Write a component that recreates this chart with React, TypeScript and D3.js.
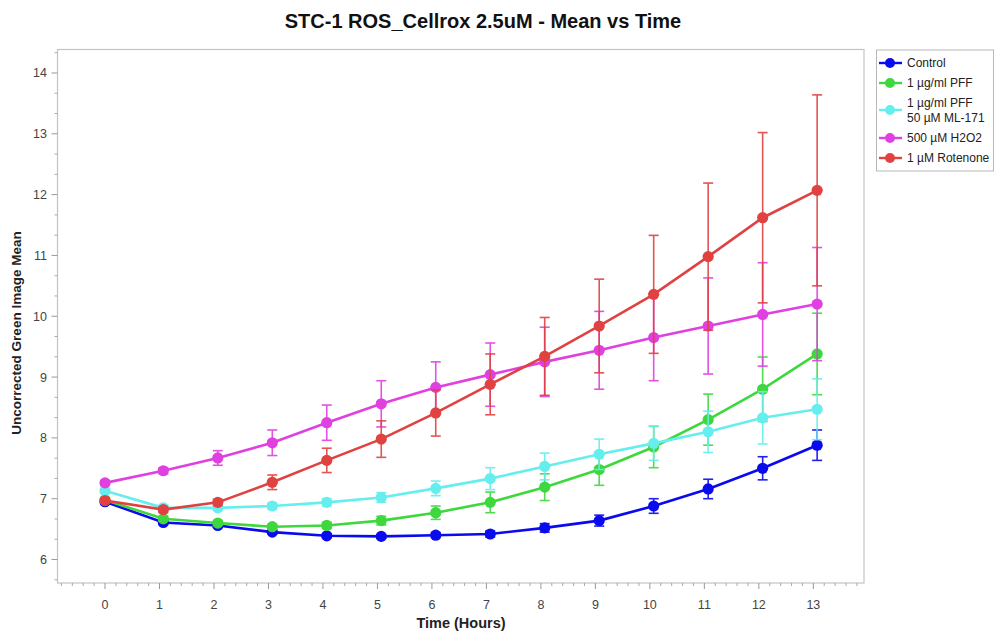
import React from "react";
import * as d3 from "d3";

const times = [0, 1.07, 2.07, 3.07, 4.07, 5.07, 6.07, 7.07, 8.07, 9.07, 10.07, 11.07, 12.07, 13.07];
const xTickLabels = ["0", "1", "2", "3", "4", "5", "6", "7", "8", "9", "10", "11", "12", "13"];
const yTickLabels = ["6", "7", "8", "9", "10", "11", "12", "13", "14"];

const control = [6.95, 6.61, 6.56, 6.45, 6.39, 6.38, 6.40, 6.42, 6.52, 6.64, 6.88, 7.16, 7.50, 7.88];
const controlErr = [0.03, 0.03, 0.03, 0.03, 0.03, 0.03, 0.04, 0.05, 0.07, 0.09, 0.12, 0.16, 0.19, 0.25];
const pff = [6.98, 6.67, 6.60, 6.54, 6.56, 6.64, 6.77, 6.94, 7.19, 7.48, 7.85, 8.30, 8.80, 9.38];
const pffErr = [0.03, 0.04, 0.04, 0.04, 0.05, 0.07, 0.11, 0.17, 0.22, 0.26, 0.34, 0.42, 0.53, 0.67];
const ml171 = [7.13, 6.85, 6.85, 6.88, 6.94, 7.02, 7.17, 7.33, 7.53, 7.73, 7.91, 8.10, 8.33, 8.47];
const ml171Err = [0.04, 0.04, 0.04, 0.05, 0.06, 0.08, 0.12, 0.18, 0.22, 0.25, 0.28, 0.34, 0.43, 0.5];
const h2o2 = [7.26, 7.46, 7.67, 7.92, 8.25, 8.56, 8.83, 9.04, 9.25, 9.44, 9.65, 9.84, 10.03, 10.20];
const h2o2Err = [0.04, 0.05, 0.12, 0.21, 0.29, 0.38, 0.42, 0.52, 0.57, 0.64, 0.71, 0.79, 0.85, 0.93];
const rotenone = [6.97, 6.82, 6.94, 7.27, 7.63, 7.98, 8.41, 8.88, 9.34, 9.84, 10.36, 10.98, 11.62, 12.07];
const rotenoneErr = [0.04, 0.05, 0.05, 0.12, 0.2, 0.3, 0.38, 0.5, 0.64, 0.77, 0.97, 1.21, 1.40, 1.57];

const seriesNames = [["Control"], ["1 µg/ml PFF"], ["1 µg/ml PFF", "50 µM ML-171"], ["500 µM H2O2"], ["1 µM Rotenone"]];
const seriesColors = ["#0a0aee", "#3ed83e", "#66eeee", "#e040e0", "#e04242"];
const seriesValues = [control, pff, ml171, h2o2, rotenone];
const seriesErrors = [controlErr, pffErr, ml171Err, h2o2Err, rotenoneErr];

const W = 995;
const H = 633;
const plot = { left: 57.5, right: 864, top: 49.5, bottom: 583 };
const font = "Arial, 'Liberation Sans', sans-serif";

export default function App() {
  const x = d3.scaleLinear().domain([-0.872, 13.93]).range([plot.left, plot.right]);
  const y = d3.scaleLinear().domain([5.614, 14.386]).range([plot.bottom, plot.top]);

  const xMajor = xTickLabels.map((t) => +t);
  const xMinor = d3.range(-4, 70).map((i) => i * 0.2).filter((v) => x(v) > plot.left + 1 && x(v) < plot.right - 1 && Math.abs(v - Math.round(v)) > 0.01);
  const yMajor = yTickLabels.map((t) => +t);
  const yMinor = d3.range(16, 44).map((i) => i / 3).filter((v) => y(v) < plot.bottom - 1 && y(v) > plot.top + 1 && Math.abs(v - Math.round(v)) > 0.01);

  const line = d3.line<number>().x((_, i) => x(times[i])).y((d) => y(d));

  return (
    <svg width={W} height={H} style={{ position: "absolute", left: 0, top: 0, background: "#fff" }}>
      <rect x={0} y={0} width={W} height={H} fill="#fff" />
      <text x={483} y={28} textAnchor="middle" fontFamily={font} fontWeight="bold" fontSize={20} fill="#111">
        STC-1 ROS_Cellrox 2.5uM - Mean vs Time
      </text>
      {/* frame */}
      <rect x={plot.left} y={plot.top} width={plot.right - plot.left} height={plot.bottom - plot.top} fill="none" stroke="#c4c4c4" strokeWidth={1.2} />
      {/* y ticks */}
      {yMajor.map((v, i) => (
        <g key={"ym" + v}>
          <line x1={plot.left - 6} x2={plot.left} y1={y(v)} y2={y(v)} stroke="#999" strokeWidth={1} />
          <text x={plot.left - 10.5} y={y(v) + 4.5} textAnchor="end" fontFamily={font} fontSize={12.5} fill="#444">
            {yTickLabels[i]}
          </text>
        </g>
      ))}
      {yMinor.map((v) => (
        <line key={"yn" + v} x1={plot.left - 3} x2={plot.left} y1={y(v)} y2={y(v)} stroke="#aaa" strokeWidth={1} />
      ))}
      {/* x ticks */}
      {xMajor.map((v, i) => (
        <g key={"xm" + v}>
          <line x1={x(v)} x2={x(v)} y1={plot.bottom} y2={plot.bottom + 6} stroke="#999" strokeWidth={1} />
          <text x={x(v)} y={plot.bottom + 26} textAnchor="middle" fontFamily={font} fontSize={12.5} fill="#444">
            {xTickLabels[i]}
          </text>
        </g>
      ))}
      {xMinor.map((v) => (
        <line key={"xn" + v} x1={x(v)} x2={x(v)} y1={plot.bottom} y2={plot.bottom + 3} stroke="#aaa" strokeWidth={1} />
      ))}
      {/* axis titles */}
      <text x={461} y={628} textAnchor="middle" fontFamily={font} fontWeight="bold" fontSize={14.5} fill="#222">
        Time (Hours)
      </text>
      <text transform={`translate(21,333) rotate(-90)`} textAnchor="middle" fontFamily={font} fontWeight="bold" fontSize={13.5} fill="#222">
        Uncorrected Green Image Mean
      </text>
      {/* series */}
      {seriesValues.map((vals, s) => (
        <g key={"s" + s}>
          {vals.map((v, i) => {
            const e = seriesErrors[s][i];
            const cx = x(times[i]);
            return (
              <g key={i} stroke={seriesColors[s]} strokeWidth={1.6} opacity={0.9}>
                <line x1={cx} x2={cx} y1={y(v - e)} y2={y(v + e)} />
                <line x1={cx - 5} x2={cx + 5} y1={y(v - e)} y2={y(v - e)} />
                <line x1={cx - 5} x2={cx + 5} y1={y(v + e)} y2={y(v + e)} />
              </g>
            );
          })}
          <path d={line(vals) || ""} fill="none" stroke={seriesColors[s]} strokeWidth={2.6} />
          {vals.map((v, i) => (
            <circle key={"c" + i} cx={x(times[i])} cy={y(v)} r={5.6} fill={seriesColors[s]} />
          ))}
        </g>
      ))}
      {/* legend */}
      <rect x={876.5} y={50} width={117} height={121} fill="#fff" stroke="#b8b8b8" strokeWidth={1} />
      {seriesNames.map((lines, s) => {
        const cy = [63, 83, 110, 138, 158][s];
        return (
          <g key={"l" + s}>
            <line x1={879} x2={902} y1={cy} y2={cy} stroke={seriesColors[s]} strokeWidth={2.4} />
            <circle cx={890} cy={cy} r={5} fill={seriesColors[s]} />
            {lines.map((t, j) => (
              <text key={j} x={907} y={cy + 4 + (lines.length === 2 ? (j === 0 ? -7.5 : 7.5) : 0)} fontFamily={font} fontSize={12} fill="#222">
                {t}
              </text>
            ))}
          </g>
        );
      })}
    </svg>
  );
}
